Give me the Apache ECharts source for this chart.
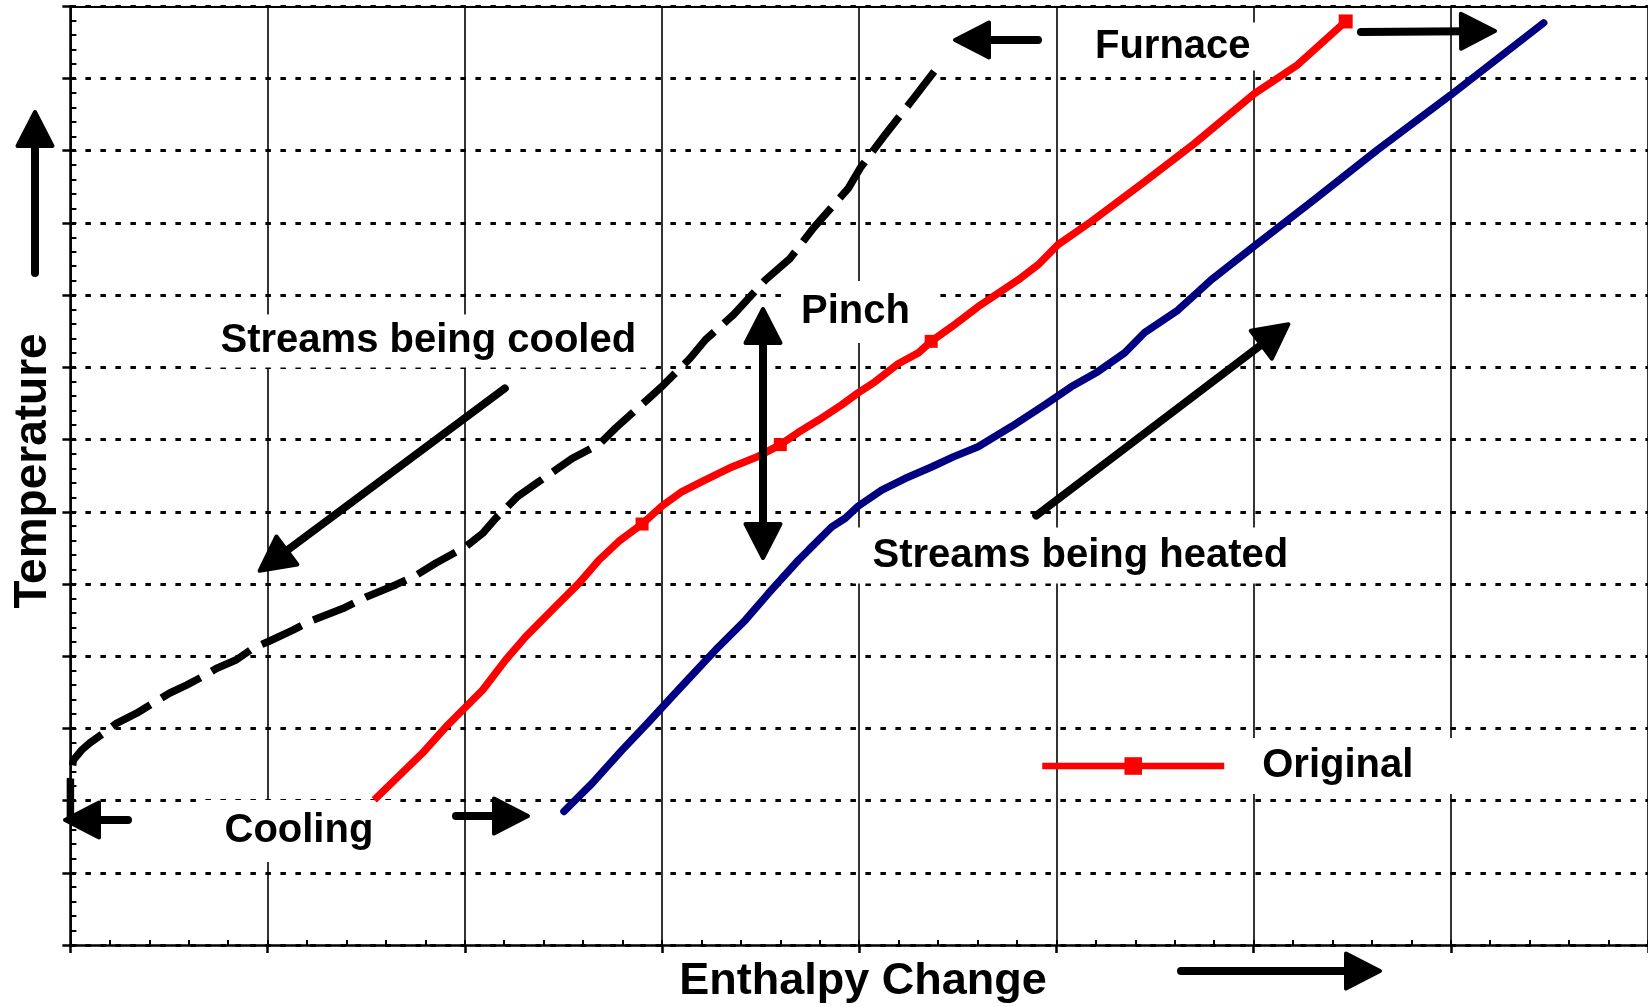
<!DOCTYPE html>
<html>
<head>
<meta charset="utf-8">
<script src="https://cdn.jsdelivr.net/npm/echarts@6/dist/echarts.min.js"></script>
<style>
html,body{margin:0;padding:0;background:#fff;}
#chart{width:1648px;height:1007px;}
</style>
</head>
<body>
<div id="chart"></div>
<script>
// ---------------- data (arbitrary units: enthalpy 0-80, temperature 0-650) ----------------
const xRange = [0, 80];
const xMajor = 10;
const xMinor = 2;
const yRange = [0, 650];
const yMajor = 50;
const yMinor = 10;

// Streams being cooled (dashed black composite)
const cooledCurve = [
  [0, 85], [0, 114.5], [0.15, 128], [0.57, 135], [0.99, 140], [1.66, 146.5], [2.34, 153.5],
  [3.36, 160.5], [4.20, 167.5], [5.04, 174.5], [5.89, 180], [6.73, 186], [7.40, 191.5],
  [8.42, 197.5], [9.26, 205.5], [10.02, 210], [11.28, 218], [12.13, 224], [13.81, 233],
  [15.00, 241], [16.51, 249.5], [17.53, 256], [18.54, 264.5], [20.06, 276], [20.90, 285],
  [21.57, 295.5], [21.91, 300], [22.67, 310.5], [23.77, 321], [24.61, 329], [25.45, 337],
  [26.80, 346.5], [27.65, 358], [29.33, 378.5], [30.09, 388], [31.44, 406.5], [32.20, 419],
  [33.63, 436.5], [35.24, 460.5], [36.50, 475.5], [37.68, 496.5], [39.45, 524], [40.05, 538],
  [41.31, 561], [42.83, 587.5], [44.18, 611.5]
];

// "Original" (red) curve
const originalCurve = [
  [15.41, 100.5], [17.86, 133], [19.04, 151], [20.90, 176.5], [22.08, 197.5], [23.09, 213.5],
  [24.61, 234.5], [25.79, 250.5], [26.80, 266.5], [27.81, 279.5], [28.99, 291.5], [30.00, 304],
  [31.02, 314], [32.20, 322], [33.55, 331], [34.90, 338.5], [36.00, 346.5], [36.92, 355],
  [37.94, 363.5], [39.11, 374], [39.96, 382.5], [40.80, 390], [41.98, 402.5], [43.00, 410],
  [43.65, 418], [44.68, 428], [46.03, 442], [48.06, 460.5], [49.07, 471], [50.08, 485],
  [51.77, 501], [54.47, 528.5], [57.00, 555], [60.04, 589.5], [62.23, 609.5], [64.67, 639.5]
];
const originalMarkerIdx = [10, 16, 24, 35];

// Streams being heated (navy composite)
const heatedCurve = [
  [25.03, 92.5], [26.46, 112], [27.98, 135], [29.33, 154.5], [30.51, 172], [31.70, 189.5],
  [32.87, 206.5], [34.23, 225], [35.40, 243.5], [36.92, 266.5], [37.43, 273.5], [38.61, 289.5],
  [39.29, 295.5], [39.96, 304], [41.14, 315], [42.32, 323], [43.67, 331], [44.77, 338],
  [46.03, 345], [47.72, 359], [49.41, 374], [50.75, 386.5], [52.10, 397], [53.46, 410],
  [54.47, 424], [56.15, 439.5], [57.16, 452], [57.84, 460.5], [60.04, 484], [63.07, 516],
  [66.27, 550.5], [69.99, 588.5], [74.71, 638.5]
];

// ---------------- annotations ----------------
const FONT = '"Liberation Sans", Arial, Helvetica, sans-serif';
const notes = [
  { text: 'Streams being cooled', x: 220.5, y: 341, pad: [8, 20, 5, 20] },
  { text: 'Pinch', x: 801, y: 312, pad: [11, 26, 11, 20] },
  { text: 'Furnace', x: 1095, y: 46.5, pad: [8, 14, 0, 20] },
  { text: 'Cooling', x: 224.5, y: 831, pad: [13, 18, 9, 20] },
  { text: 'Streams being heated', x: 872.5, y: 555.5, pad: [11, 20, 5, 20] }
];
const arrows = [
  [35, 277, 35, 110, false],
  [1177, 971, 1382, 971, false],
  [508, 386, 258, 572, false],
  [1033, 518, 1290, 323, false],
  [763, 560, 763, 307, true],
  [1042, 40, 953, 40, false],
  [1357, 32, 1497, 31, false],
  [132, 820, 63, 820, false],
  [452, 816, 530, 816, false]
];

function arrowEls(x1, y1, x2, y2, both) {
  const L = 34, W = 17.5;
  const dx = x2 - x1, dy = y2 - y1, len = Math.hypot(dx, dy);
  const ux = dx / len, uy = dy / len, nx = -uy, ny = ux;
  const els = [];
  const head = (tx, ty, sx, sy) => {
    tx -= sx * 2; ty -= sy * 2;
    return {
      type: 'polygon', z: 60,
      shape: { points: [[tx, ty], [tx - sx * L + nx * W, ty - sy * L + ny * W], [tx - sx * L - nx * W, ty - sy * L - ny * W]] },
      style: { fill: '#000', stroke: '#000', lineWidth: 4, lineJoin: 'round' }
    };
  };
  const sx = both ? x1 + ux * (L - 4) : x1 + ux * 4;
  const sy = both ? y1 + uy * (L - 4) : y1 + uy * 4;
  els.push({
    type: 'line', z: 60,
    shape: { x1: sx, y1: sy, x2: x2 - ux * (L - 4), y2: y2 - uy * (L - 4) },
    style: { stroke: '#000', lineWidth: 8, lineCap: 'round' }
  });
  els.push(head(x2, y2, ux, uy));
  if (both) els.push(head(x1, y1, -ux, -uy));
  return els;
}

const graphics = [];
notes.forEach(n => {
  graphics.push({
    type: 'text', z: 2, x: n.x - n.pad[3], y: n.y,
    style: {
      text: n.text, fontFamily: FONT, fontSize: 40, fontWeight: 'bold', fill: '#000',
      align: 'left', verticalAlign: 'middle', lineHeight: 40,
      backgroundColor: '#fff', padding: n.pad
    }
  });
});
graphics.push({
  type: 'text', z: 50, x: 33, y: 471, rotation: Math.PI / 2,
  style: { text: 'Temperature', fontFamily: FONT, fontSize: 46, fontWeight: 'bold', fill: '#000', align: 'center', verticalAlign: 'middle' }
});
graphics.push({
  type: 'text', z: 50, x: 863, y: 982,
  style: { text: 'Enthalpy Change', fontFamily: FONT, fontSize: 45, fontWeight: 'bold', fill: '#000', align: 'center', verticalAlign: 'middle' }
});
arrows.forEach(a => arrowEls(a[0], a[1], a[2], a[3], a[4]).forEach(e => graphics.push(e)));

const chart = echarts.init(document.getElementById('chart'), null, { renderer: 'canvas' });
const option = {
  animation: false,
  backgroundColor: '#fff',
  grid: { left: 70.4, right: -3.2, top: 6.3, bottom: 62, containLabel: false },
  legend: {
    data: ['Original'], selectedMode: false, left: 1039, top: 738, padding: 0,
    itemWidth: 182, itemHeight: 22,
    lineStyle: { width: 6.5 },
    textStyle: {
      fontFamily: FONT, fontSize: 40, fontWeight: 'bold', color: '#000', lineHeight: 40,
      backgroundColor: '#fff', padding: [8, 50, 8, 33]
    }
  },
  xAxis: [
    {
      type: 'value', min: xRange[0], max: xRange[1], interval: xMajor, position: 'bottom',
      axisLine: { show: true, onZero: false, lineStyle: { color: '#000', width: 2.5 } },
      axisTick: { show: true, inside: false, length: 8, lineStyle: { color: '#000', width: 2.5 } },
      axisLabel: { show: false },
      splitLine: { show: true, lineStyle: { color: '#000', width: 1.6, type: 'solid' } }
    },
    {
      type: 'value', min: xRange[0], max: xRange[1], interval: xMinor, position: 'bottom',
      axisLine: { show: false, onZero: false },
      axisTick: { show: true, inside: true, length: 5, lineStyle: { color: '#000', width: 2 } },
      axisLabel: { show: false }, splitLine: { show: false }
    },
    {
      type: 'value', min: xRange[0], max: xRange[1], interval: xMajor, position: 'top',
      axisLine: { show: true, onZero: false, lineStyle: { color: '#000', width: 2 } },
      axisTick: { show: false }, axisLabel: { show: false }, splitLine: { show: false }
    }
  ],
  yAxis: [
    {
      type: 'value', min: yRange[0], max: yRange[1], interval: yMajor, position: 'left',
      axisLine: { show: true, onZero: false, lineStyle: { color: '#000', width: 2.5 } },
      axisTick: { show: true, inside: false, length: 8, lineStyle: { color: '#000', width: 2.5 } },
      axisLabel: { show: false },
      splitLine: { show: true, lineStyle: { color: '#000', width: 3, type: [5.5, 9.5] } }
    },
    {
      type: 'value', min: yRange[0], max: yRange[1], interval: yMinor, position: 'left',
      axisLine: { show: false, onZero: false },
      axisTick: { show: true, inside: true, length: 6, lineStyle: { color: '#000', width: 2 } },
      axisLabel: { show: false }, splitLine: { show: false }
    }
  ],
  series: [
    {
      name: 'Streams being cooled', type: 'line', xAxisIndex: 0, yAxisIndex: 0,
      data: cooledCurve, showSymbol: false, symbol: 'none', clip: false,
      lineStyle: { color: '#000', width: 7.5, type: [44, 13], cap: 'butt' }, z: 3
    },
    {
      name: 'Original', type: 'line', xAxisIndex: 0, yAxisIndex: 0,
      data: originalCurve, symbol: 'rect', showAllSymbol: true,
      symbolSize: (v, p) => originalMarkerIdx.indexOf(p.dataIndex) < 0 ? 0 : (p.dataIndex === originalCurve.length - 1 ? 14 : 13),
      itemStyle: { color: '#ff0000' },
      lineStyle: { color: '#ff0000', width: 7.5 }, z: 3
    },
    {
      name: 'Streams being heated', type: 'line', xAxisIndex: 0, yAxisIndex: 0,
      data: heatedCurve, showSymbol: false, symbol: 'none',
      lineStyle: { color: '#000080', width: 7.5, cap: 'round' }, z: 3
    }
  ],
  graphic: { elements: graphics }
};
chart.setOption(option);
</script>
</body>
</html>
